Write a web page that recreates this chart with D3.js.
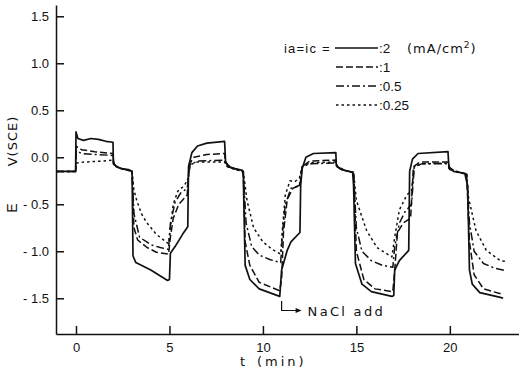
<!DOCTYPE html>
<html>
<head>
<meta charset="utf-8">
<script src="https://cdn.jsdelivr.net/npm/d3@7"></script>
<style>
  body { margin: 0; background: #fff; }
  svg { display: block; }
  text { font-family: "Liberation Sans", Arial, sans-serif; fill: #111; }
  .mono { font-family: "DejaVu Sans", sans-serif; letter-spacing: 1px; }
</style>
</head>
<body>
<div id="chart"></div>
<script>
// E vs t for ia=ic = 2, 1, 0.5, 0.25 mA/cm2 -- [t (min), E (V)]
const curve2 = [[-1.05,-0.15],[-0.02,-0.15],[0,0.27],[0.1,0.2],[0.4,0.18],[0.8,0.2],[1.2,0.19],[1.6,0.17],[1.98,0.16],[2.0,-0.06],[2.15,-0.1],[2.4,-0.12],[2.8,-0.13],[3.0,-0.15],
  [3.05,-1.05],[3.2,-1.12],[4.0,-1.2],[4.9,-1.31],[5.0,-1.3],[5.05,-1.02],[5.3,-0.95],[5.7,-0.82],[5.98,-0.74],[6.02,-0.1],[6.2,0.05],[6.5,0.12],[7.0,0.15],[7.95,0.17],[8.0,-0.04],[8.15,-0.1],[8.5,-0.12],[8.9,-0.14],
  [8.95,-0.2],[9.05,-1.15],[9.3,-1.3],[9.8,-1.4],[10.9,-1.48],[11.0,-1.2],[11.3,-0.99],[11.5,-0.9],[11.98,-0.8],[12.02,-0.3],[12.1,-0.12],[12.3,0.0],[12.7,0.04],[13.9,0.05],[13.93,-0.09],[14.2,-0.13],[14.8,-0.16],
  [14.85,-0.3],[14.95,-1.13],[15.3,-1.35],[15.8,-1.43],[16.9,-1.48],[17.0,-1.47],[17.05,-1.2],[17.3,-1.1],[17.8,-0.99],[17.85,-0.15],[18.0,-0.02],[18.3,0.04],[19.9,0.06],[19.95,-0.1],[20.2,-0.15],[20.8,-0.17],
  [20.95,-0.3],[21.05,-1.2],[21.2,-1.35],[21.6,-1.44],[22.7,-1.49],[22.85,-1.5]];

const curve1 = [[-1.05,-0.15],[-0.02,-0.15],[0,0.12],[0.3,0.08],[1.0,0.06],[1.98,0.04],[2.0,-0.07],[2.3,-0.11],[3.0,-0.15],
  [3.1,-0.75],[3.3,-0.88],[3.8,-0.96],[4.3,-1.01],[4.95,-1.03],[5.05,-0.85],[5.2,-0.65],[5.5,-0.5],[5.95,-0.4],[6.05,-0.08],[6.3,0.0],[7.0,0.03],[7.95,0.04],[8.0,-0.06],[8.3,-0.11],[8.95,-0.15],
  [9.05,-0.9],[9.3,-1.15],[9.8,-1.33],[10.9,-1.42],[11.0,-1.3],[11.1,-0.8],[11.3,-0.45],[11.6,-0.33],[11.98,-0.3],[12.1,-0.1],[12.5,-0.04],[13.9,-0.03],[13.95,-0.1],[14.3,-0.14],[14.85,-0.16],
  [15.0,-1.0],[15.4,-1.3],[16.0,-1.4],[16.95,-1.43],[17.05,-1.2],[17.2,-0.8],[17.5,-0.7],[17.9,-0.65],[18.05,-0.1],[18.4,-0.05],[19.9,-0.05],[19.95,-0.12],[20.3,-0.15],[20.9,-0.18],
  [21.05,-0.9],[21.3,-1.25],[21.8,-1.4],[22.85,-1.46]];

const curve05 = [[-1.05,-0.15],[-0.02,-0.15],[0.02,0.07],[0.3,0.04],[1.0,0.03],[1.98,0.02],[2.03,-0.08],[2.4,-0.12],[3.0,-0.15],
  [3.1,-0.6],[3.4,-0.85],[4.0,-0.93],[4.5,-0.96],[4.95,-0.98],[5.05,-0.7],[5.3,-0.48],[5.6,-0.38],[5.95,-0.33],[6.1,-0.08],[6.5,-0.04],[7.95,-0.03],[8.05,-0.09],[8.5,-0.13],[8.95,-0.15],
  [9.1,-0.7],[9.4,-0.95],[9.8,-1.04],[10.4,-1.09],[10.95,-1.12],[11.05,-0.8],[11.2,-0.5],[11.5,-0.33],[11.95,-0.3],[12.1,-0.1],[12.5,-0.07],[13.9,-0.06],[14.0,-0.11],[14.4,-0.14],[14.85,-0.16],
  [15.0,-0.75],[15.3,-1.0],[15.8,-1.1],[16.4,-1.15],[16.95,-1.17],[17.05,-0.95],[17.3,-0.7],[17.6,-0.58],[17.95,-0.5],[18.1,-0.1],[18.5,-0.07],[19.9,-0.07],[20.0,-0.13],[20.4,-0.16],[20.9,-0.18],
  [21.05,-0.7],[21.3,-1.0],[21.8,-1.13],[22.4,-1.18],[23.05,-1.21]];

const curve025 = [[-1.05,-0.15],[-0.02,-0.15],[0.02,-0.06],[0.5,-0.05],[1.5,-0.04],[1.98,-0.03],[2.05,-0.08],[2.4,-0.12],[3.0,-0.15],
  [3.1,-0.35],[3.25,-0.46],[3.5,-0.6],[3.8,-0.7],[4.3,-0.82],[4.95,-0.92],[5.05,-0.75],[5.2,-0.5],[5.45,-0.36],[5.8,-0.3],[6.0,-0.22],[6.1,-0.08],[6.5,-0.05],[7.95,-0.05],[8.1,-0.1],[8.5,-0.13],[8.95,-0.15],
  [9.15,-0.46],[9.5,-0.75],[10.0,-0.9],[10.5,-0.98],[10.95,-1.03],[11.05,-0.75],[11.2,-0.4],[11.45,-0.25],[11.7,-0.26],[11.95,-0.22],[12.1,-0.1],[12.5,-0.06],[13.9,-0.05],[14.0,-0.1],[14.4,-0.14],[14.85,-0.16],
  [15.0,-0.46],[15.55,-0.78],[16.1,-0.96],[16.9,-1.06],[17.05,-0.85],[17.3,-0.56],[17.7,-0.4],[17.95,-0.36],[18.1,-0.1],[18.5,-0.07],[19.9,-0.06],[20.0,-0.12],[20.4,-0.15],[20.9,-0.18],
  [21.0,-0.43],[21.4,-0.78],[21.95,-0.99],[22.7,-1.1],[23.05,-1.11]];

const seriesNames = ["2", "1", "0.5", "0.25"];
const seriesData = [curve2, curve1, curve05, curve025];
const seriesDash = [null, "7,3", "8,3,2,3", "2.5,3"];

const xTicks = [0, 5, 10, 15, 20];
const yTicks = [1.5, 1.0, 0.5, 0.0, -0.5, -1.0, -1.5];
const naclTime = 11.0;

const width = 519, height = 370;
const svg = d3.select("#chart").append("svg")
  .attr("width", width)
  .attr("height", height);

const x = d3.scaleLinear().domain([-1.07, 23.7]).range([56, 519]);
const y = d3.scaleLinear().domain([-1.88, 1.62]).range([334, 5]);

// axes, ticks pointing inward
const yAxis = d3.axisLeft(y).tickValues(yTicks).tickSizeInner(-8).tickSizeOuter(0).tickPadding(7)
  .tickFormat(d => d < 0 ? "- " + Math.abs(d).toFixed(1) : d.toFixed(1));
const xAxis = d3.axisBottom(x).tickValues(xTicks).tickSizeInner(-8).tickSizeOuter(0).tickPadding(9)
  .tickFormat(d3.format("d"));

const gy = svg.append("g").attr("transform", `translate(${x.range()[0]},0)`).call(yAxis);
const gx = svg.append("g").attr("transform", `translate(0,${y.range()[0]})`).call(xAxis);
[gx, gy].forEach(g => {
  g.selectAll("path, line").attr("stroke", "#111").attr("stroke-width", 1.5);
  g.selectAll("text").attr("font-size", 13).attr("font-family", "Liberation Sans, Arial, sans-serif").attr("fill", "#111");
});

// curves
const line = d3.line().x(d => x(d[0])).y(d => y(d[1]));
svg.append("g").selectAll("path")
  .data(seriesData)
  .join("path")
  .attr("d", line)
  .attr("fill", "none")
  .attr("stroke", "#111")
  .attr("stroke-width", (d, i) => i == 0 ? 1.7 : 1.5)
  .attr("stroke-linejoin", "round")
  .attr("stroke-dasharray", (d, i) => seriesDash[i]);

// legend
const legRows = [48, 67, 86, 105];
svg.append("text").attr("x", 284).attr("y", legRows[0] + 4.5).attr("font-size", 13)
  .style("letter-spacing", "1.2px").text("ia=ic =");
const leg = svg.append("g").selectAll("g").data(seriesNames).join("g");
leg.append("line")
  .attr("x1", (d, i) => i == 0 ? 335 : 336).attr("x2", 378)
  .attr("y1", (d, i) => legRows[i]).attr("y2", (d, i) => legRows[i])
  .attr("stroke", "#111").attr("stroke-width", 1.6)
  .attr("stroke-dasharray", (d, i) => seriesDash[i]);
leg.append("text")
  .attr("x", 379).attr("y", (d, i) => legRows[i] + 4.5)
  .attr("font-size", 13.5)
  .text(d => ":" + d);
const unit = svg.append("text").attr("x", 407).attr("y", legRows[0] + 4.5).attr("font-size", 13).attr("class", "mono");
unit.append("tspan").text("(mA/cm");
unit.append("tspan").attr("font-size", 9).attr("dy", -5).text("2");
unit.append("tspan").attr("dy", 5).text(")");

// axis titles
svg.append("text").attr("class", "mono").attr("font-size", 13)
  .attr("transform", "translate(17,141) rotate(-90)").attr("text-anchor", "middle").text("V(SCE)");
svg.append("text").attr("font-size", 14)
  .attr("transform", "translate(17,208) rotate(-90)").attr("text-anchor", "middle").text("E");
svg.append("text").attr("class", "mono").attr("font-size", 13)
  .attr("x", 240).attr("y", 366).text("t");
svg.append("text").attr("class", "mono").attr("font-size", 13)
  .attr("x", 257).attr("y", 366).style("letter-spacing", "3px").text("(min)");

// NaCl annotation
const ax = x(naclTime);
svg.append("path")
  .attr("d", `M${ax},${y(-1.53)}V${y(-1.63)}H${ax + 18}`)
  .attr("fill", "none").attr("stroke", "#111").attr("stroke-width", 1.2);
svg.append("path")
  .attr("d", `M${ax + 20},${y(-1.63)}l-6,-2.5v5z`)
  .attr("fill", "#111");
svg.append("text").attr("class", "mono").attr("font-size", 13)
  .attr("x", ax + 26).attr("y", y(-1.63) + 5).style("letter-spacing", "2.3px").text("NaCl add");
</script>
</body>
</html>
